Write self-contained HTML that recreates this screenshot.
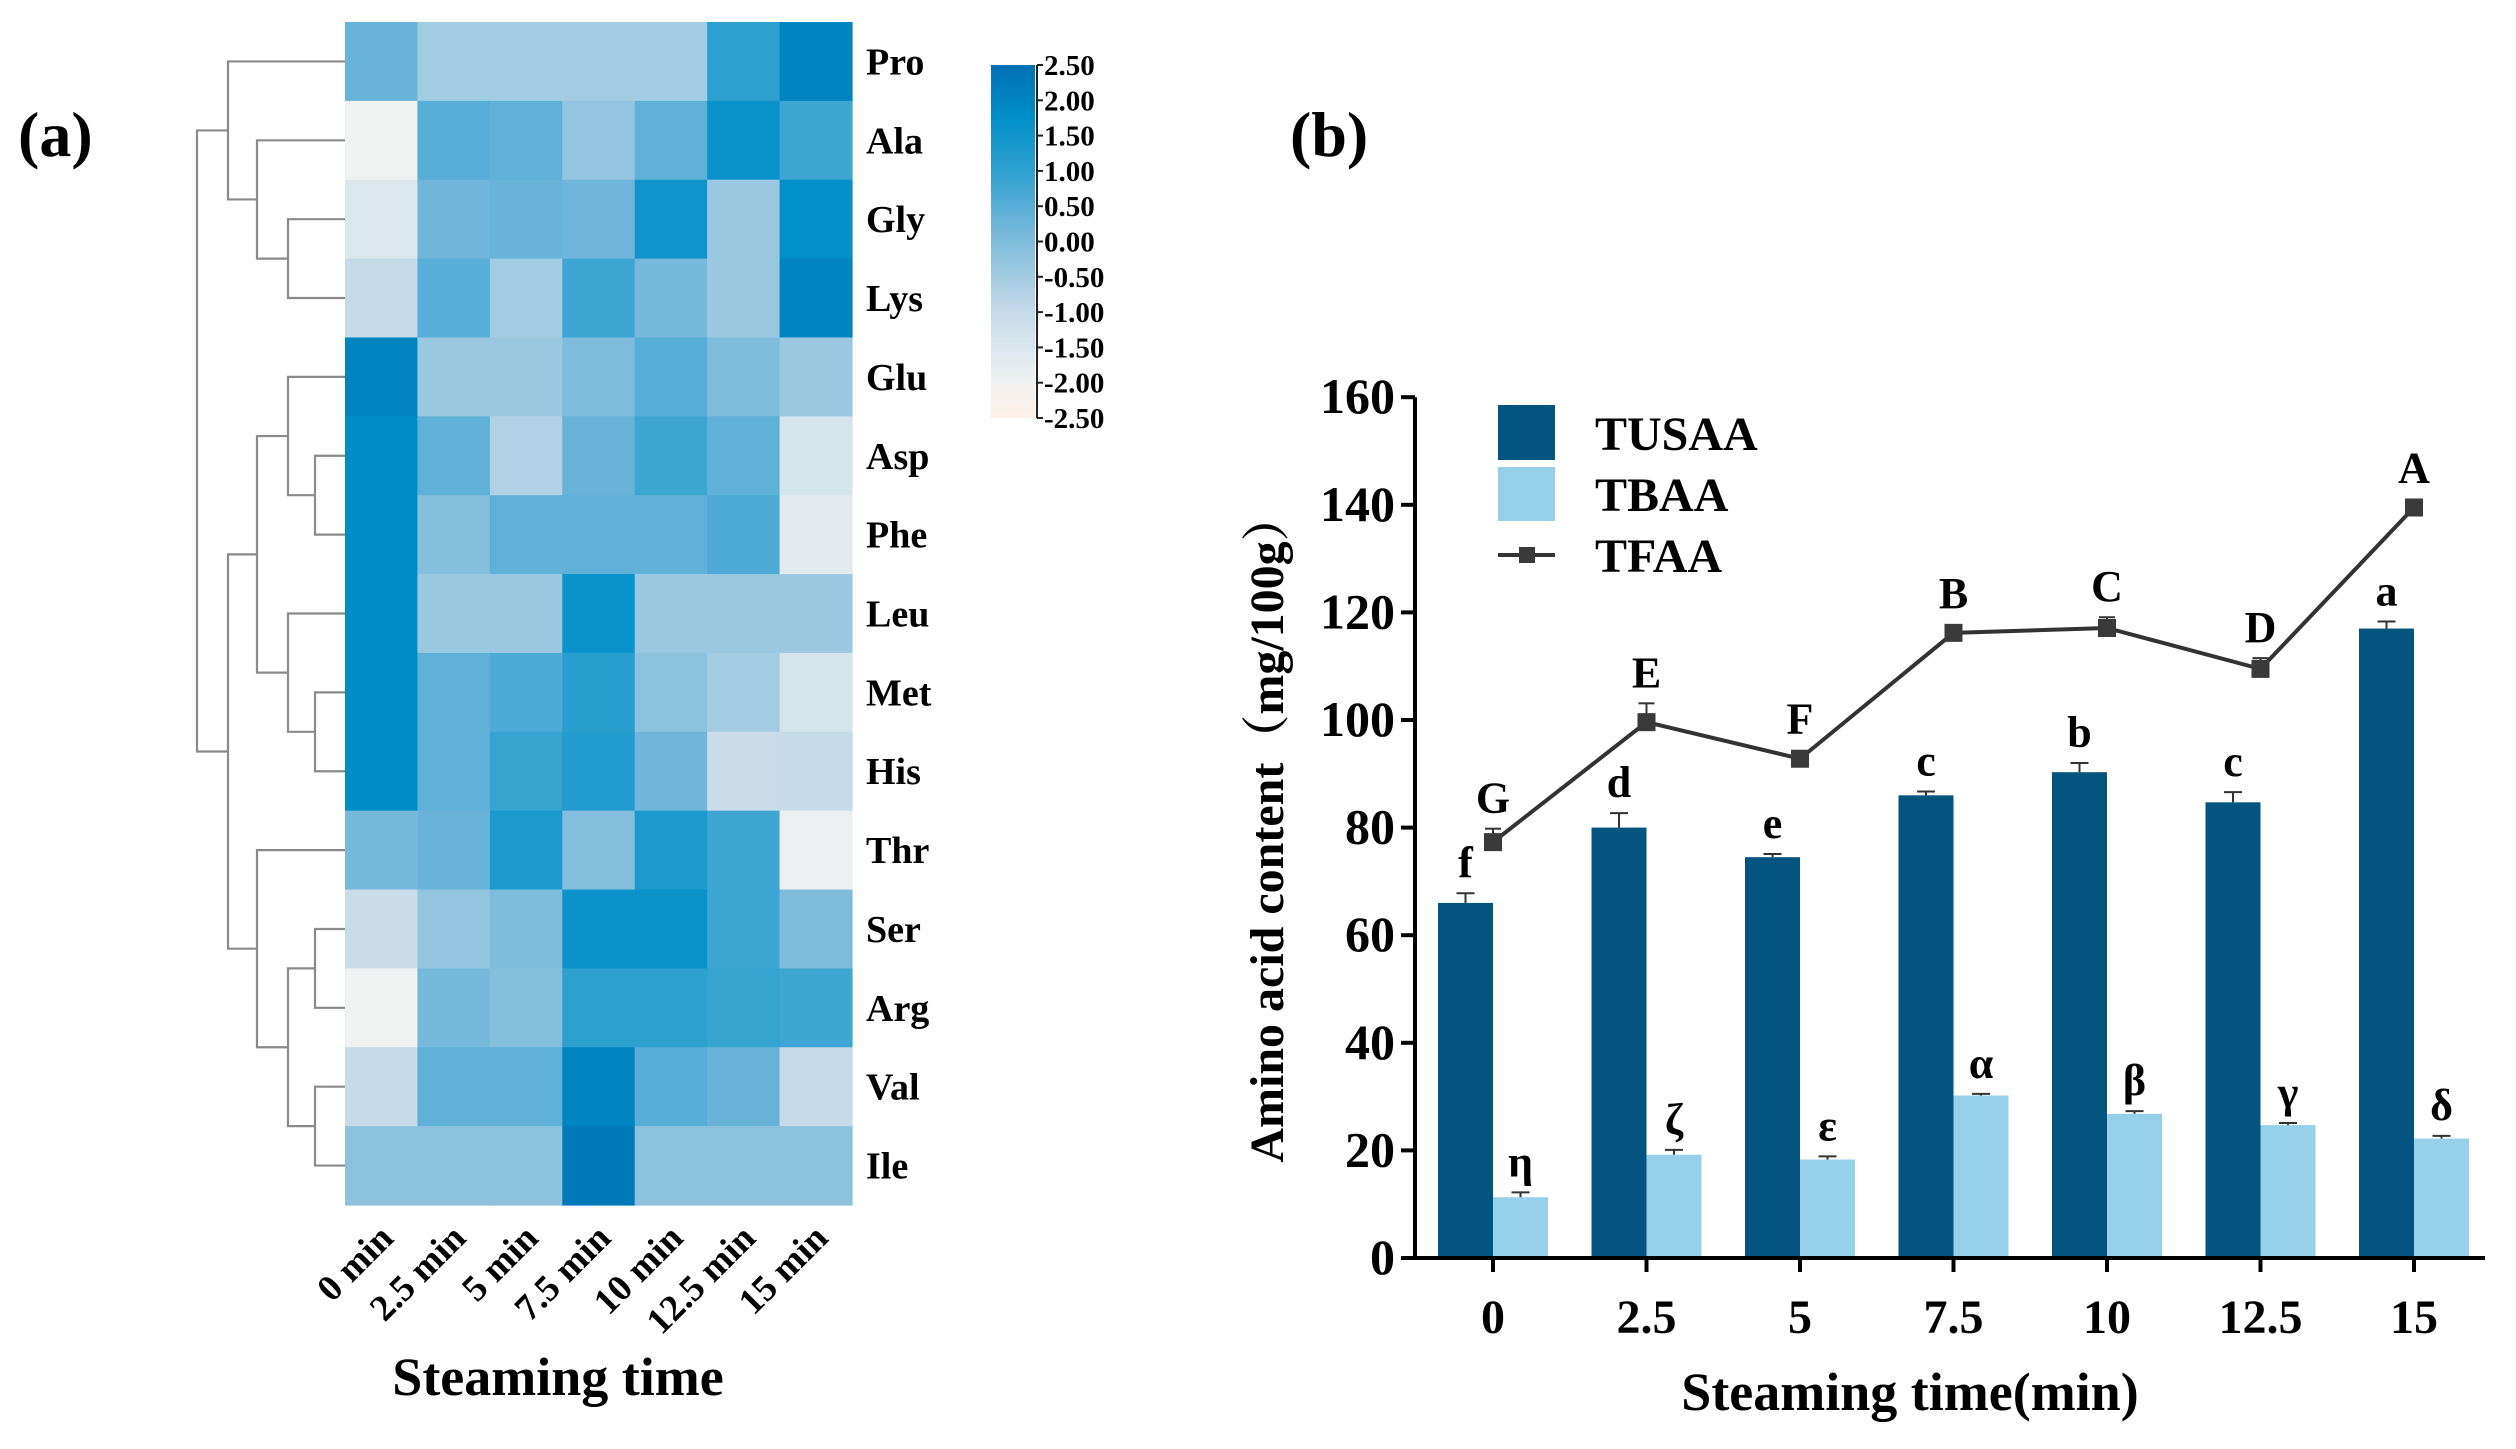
<!DOCTYPE html>
<html><head><meta charset="utf-8"><style>
html,body{margin:0;padding:0;background:#fff;}
svg, svg text{font-family:"Liberation Serif","Times New Roman",Times,"DejaVu Serif",serif;font-weight:bold;}
</style></head><body>
<svg id="fig" width="2516" height="1444" viewBox="0 0 2516 1444" xmlns="http://www.w3.org/2000/svg" font-family="Liberation Serif, Times New Roman, serif" font-weight="bold">
<text x="18" y="156" font-size="64">(a)</text>
<text x="1290" y="156" font-size="64">(b)</text>
<g id="heat"></g>
<g id="dendro"></g>
<g id="cbar"></g>
<text x="558" y="1395" font-size="54" text-anchor="middle">Steaming time</text>
<g id="bar"></g>
</svg>
<script>
const rows = ["Pro","Ala","Gly","Lys","Glu","Asp","Phe","Leu","Met","His","Thr","Ser","Arg","Val","Ile"];
const cols = ["0 min","2.5 min","5 min","7.5 min","10 min","12.5 min","15 min"];
const zPro = [0.3,-0.5,-0.5,-0.5,-0.5,1.0,2.0];
const zAla = [-2.0,0.5,0.4,-0.3,0.4,1.6,0.8];
const zGly = [-1.5,0.2,0.3,0.2,1.5,-0.4,1.7];
const zLys = [-1.0,0.5,-0.5,0.8,0.1,-0.4,2.0];
const zGlu = [2.0,-0.4,-0.4,0.0,0.5,0.0,-0.4];
const zAsp = [1.8,0.4,-0.7,0.3,0.8,0.4,-1.4];
const zPhe = [1.8,-0.1,0.4,0.4,0.4,0.6,-1.7];
const zLeu = [1.8,-0.4,-0.4,1.6,-0.4,-0.4,-0.4];
const zMet = [1.8,0.4,0.6,1.1,-0.2,-0.5,-1.4];
const zHis = [1.8,0.4,0.9,1.2,0.2,-1.1,-1.0];
const zThr = [0.1,0.3,1.3,-0.1,1.3,0.8,-1.9];
const zSer = [-1.1,-0.3,0.0,1.6,1.6,0.8,0.0];
const zArg = [-2.0,0.1,-0.1,1.0,1.0,0.9,0.8];
const zVal = [-1.0,0.4,0.4,2.0,0.5,0.3,-1.0];
const zIle = [-0.2,-0.2,-0.2,2.3,-0.2,-0.2,-0.2];
const zRows = [zPro,zAla,zGly,zLys,zGlu,zAsp,zPhe,zLeu,zMet,zHis,zThr,zSer,zArg,zVal,zIle];
const cbTicks = ["2.50","2.00","1.50","1.00","0.50","0.00","-0.50","-1.00","-1.50","-2.00","-2.50"];
const merges = [[2,3,3],[1,"n0",2],[0,"n1",1],[5,6,4],[4,"n3",3],[8,9,4],[7,"n5",3],["n4","n6",2],[11,12,4],[13,14,4],["n8","n9",3],[10,"n10",2],["n7","n11",1],["n2","n12",0]];
const cats = ["0","2.5","5","7.5","10","12.5","15"];
const tusaa = [66,80,74.5,86,90.3,84.7,117];
const tusaaErr = [1.8,2.7,0.6,0.7,1.7,1.9,1.3];
const tbaa = [11.3,19.2,18.3,30.2,26.8,24.7,22.2];
const tbaaErr = [0.9,0.9,0.6,0.3,0.5,0.4,0.5];
const tfaa = [77.3,99.6,92.8,116.2,117.1,109.5,139.5];
const tfaaErr = [2.5,3.5,0.5,0.6,2.0,2.0,0.5];
const lTusaa = ["f","d","e","c","b","c","a"];
const lTbaa = ["η","ζ","ε","α","β","γ","δ"];
const lTfaa = ["G","E","F","B","C","D","A"];
const yTicks = [0,20,40,60,80,100,120,140,160];

const NS="http://www.w3.org/2000/svg";
function mk(tag,attrs,parent){const e=document.createElementNS(NS,tag);for(const k in attrs)e.setAttribute(k,attrs[k]);parent.appendChild(e);return e;}

const stops=[[-2.5,[253,240,232]],[-2,[240,241,241]],[-1,[197,219,232]],[0,[127,188,220]],[1,[46,160,208]],[1.75,[0,144,200]],[2.5,[0,112,180]]];
function col(v){v=Math.max(-2.5,Math.min(2.5,v));for(let i=0;i<stops.length-1;i++){const a=stops[i],b=stops[i+1];if(v<=b[0]){const t=(v-a[0])/(b[0]-a[0]);const c=a[1].map((x,j)=>Math.round(x+(b[1][j]-x)*t));return `rgb(${c})`;}}return 'rgb(0,112,180)';}

const hx0=345,hy0=22,cw=(852-345)/7,rh=(1205-22)/15;
const heat=document.getElementById('heat');
zRows.forEach((r,i)=>{r.forEach((v,j)=>{
  const e=mk('rect',{x:hx0+j*cw,y:hy0+i*rh,width:cw+0.6,height:rh+0.6,fill:col(v)},heat);
  
  
});
  const t=mk('text',{x:866,y:hy0+(i+0.5)*rh+13,'font-size':38},heat);t.textContent=rows[i];
  
  
});
cols.forEach((c,j)=>{
  const cx=hx0+(j+0.5)*cw, ty=1240;
  const t=mk('text',{x:cx+14,y:ty,'font-size':37,'text-anchor':'end',transform:`rotate(-45 ${cx+14} ${ty})`},heat);t.textContent=c;
  
  
});

const dg=document.getElementById('dendro');
const levels=[197,228,257,288,315];
const nodes=[];
function pos(c){if(typeof c==='number')return {x:hx0,y:hy0+(c+0.5)*rh};return nodes[+c.slice(1)];}
merges.forEach(m=>{const a=pos(m[0]),b=pos(m[1]),x=levels[m[2]];
  const p=mk('path',{d:`M${a.x},${a.y}H${x}V${b.y}H${b.x}`,fill:'none',stroke:'#8a8a8a','stroke-width':2.2},dg);
  
  
  nodes.push({x:x,y:(a.y+b.y)/2});});

const cb=document.getElementById('cbar');
const defs=mk('defs',{},cb);const lg=mk('linearGradient',{id:'cg',x1:0,y1:1,x2:0,y2:0},defs);
for(let k=0;k<=20;k++){const v=-2.5+k*0.25;mk('stop',{offset:k/20,'stop-color':col(v)},lg);}
const cbTop=65,cbBot=418;
const cr=mk('rect',{x:991,y:cbTop,width:44,height:cbBot-cbTop,fill:'url(#cg)'},cb);

mk('line',{x1:1037,y1:cbTop,x2:1037,y2:cbBot,stroke:'#222','stroke-width':2},cb);
cbTicks.forEach((s,i)=>{const y=cbTop+i*(cbBot-cbTop)/(cbTicks.length-1);
  mk('line',{x1:1037,y1:y,x2:1043,y2:y,stroke:'#222','stroke-width':2},cb);
  const t=mk('text',{x:1044,y:y+10,'font-size':29},cb);t.textContent=s;
  });

const bg=document.getElementById('bar');
const X0=1493,DX=153.5,Y0=1258,K=5.38,BW=55;
const xs=i=>X0+i*DX, ys=v=>Y0-v*K;
const dark='#03557f',light='#96d0ea';
function err(x,v,e,g,w){const y1=ys(v+e);mk('line',{x1:x,y1:ys(v),x2:x,y2:y1,stroke:'#333','stroke-width':2},g);mk('line',{x1:x-w,y1:y1,x2:x+w,y2:y1,stroke:'#333','stroke-width':2},g);return y1;}
cats.forEach((c,i)=>{
  const cx=xs(i);
  const b1=mk('rect',{x:cx-BW,y:ys(tusaa[i]),width:BW,height:Y0-ys(tusaa[i]),fill:dark},bg);
  
  const b2=mk('rect',{x:cx,y:ys(tbaa[i]),width:BW,height:Y0-ys(tbaa[i]),fill:light},bg);
  
  const t1=err(cx-BW/2,tusaa[i],tusaaErr[i],bg,9);
  const t2=err(cx+BW/2,tbaa[i],tbaaErr[i],bg,9);
  const a=mk('text',{x:cx-BW/2,y:t1-16,'font-size':44,'text-anchor':'middle'},bg);a.textContent=lTusaa[i];
  
  const b=mk('text',{x:cx+BW/2,y:t2-16,'font-size':44,'text-anchor':'middle'},bg);b.textContent=lTbaa[i];
  
  mk('line',{x1:cx,y1:Y0,x2:cx,y2:Y0+14,stroke:'#000','stroke-width':4},bg);
  const tl=mk('text',{x:cx,y:Y0+75,'font-size':48,'text-anchor':'middle'},bg);tl.textContent=c;
  
});
const pl=mk('polyline',{points:tfaa.map((v,i)=>xs(i)+','+ys(v)).join(' '),fill:'none',stroke:'#333','stroke-width':4},bg);

tfaa.forEach((v,i)=>{const cx=xs(i);const t=err(cx,v,tfaaErr[i],bg,8);
  const m=mk('rect',{x:cx-9,y:ys(v)-9,width:18,height:18,fill:'#3a3a3a'},bg);
  
  const l=mk('text',{x:cx,y:Math.min(t,ys(v)-9)-16,'font-size':44,'text-anchor':'middle'},bg);l.textContent=lTfaa[i];
  });
mk('path',{d:`M1415,${ys(160)}V${Y0}H2485`,fill:'none',stroke:'#000','stroke-width':4},bg);
yTicks.forEach(v=>{const y=ys(v);mk('line',{x1:1401,y1:y,x2:1415,y2:y,stroke:'#000','stroke-width':4},bg);
  const t=mk('text',{x:1395,y:y+16,'font-size':50,'text-anchor':'end'},bg);t.textContent=v;
  });
const yl=mk('text',{x:1283,y:828,'font-size':48,'text-anchor':'middle',transform:'rotate(-90 1283 828)'},bg);
yl.textContent='Amino acid content（mg/100g）';yl.setAttribute('style','font-family:"Liberation Serif","Noto Serif CJK SC",serif');

const xl=mk('text',{x:1910,y:1410,'font-size':54,'text-anchor':'middle'},bg);xl.textContent='Steaming time(min)';

const lgG=mk('g',{},bg);
const s1=mk('rect',{x:1498,y:405,width:57,height:55,fill:dark},lgG);
const s2=mk('rect',{x:1498,y:467,width:57,height:54,fill:light},lgG);
mk('line',{x1:1498,y1:555,x2:1555,y2:555,stroke:'#333','stroke-width':4},lgG);
mk('rect',{x:1519,y:547,width:16,height:16,fill:'#3a3a3a'},lgG);
[['TUSAA',450],['TBAA',511],['TFAA',572]].forEach(([s,y])=>{const t=mk('text',{x:1595,y:y,'font-size':48},lgG);t.textContent=s;
  });
</script>
</body></html>
